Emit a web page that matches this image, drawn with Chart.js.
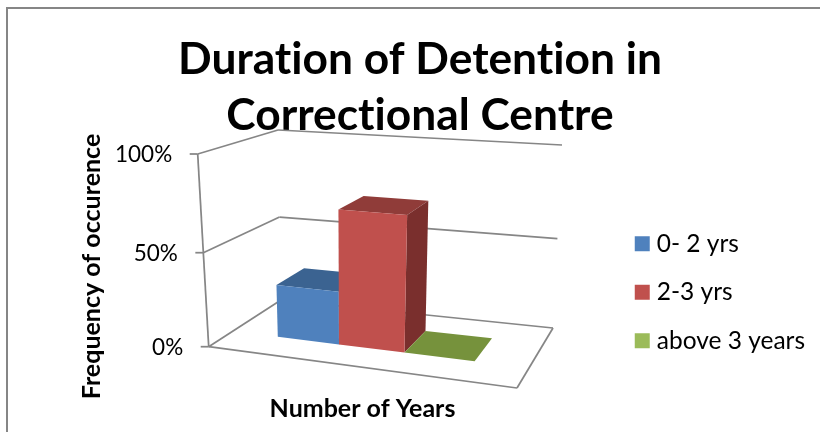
<!DOCTYPE html>
<html>
<head>
<meta charset="utf-8">
<script src="https://cdn.jsdelivr.net/npm/chart.js@4"></script>
<style>
  html, body { margin: 0; background: #fff; }
  #wrap { position: relative; width: 820px; height: 432px; overflow: hidden; }
  #frame { position: absolute; left: 6px; top: 7px; width: 830px; height: 440px; border: 2px solid #868686; }
  canvas { position: absolute; left: 0; top: 0; }
</style>
</head>
<body>
<div id="wrap">
  <div id="frame"></div>
  <canvas id="durationChart" width="820" height="432"></canvas>
</div>
<script>
const titleLines = ['Duration of Detention in', 'Correctional Centre'];
const categories = ['Number of Years'];
const seriesNames = ['0- 2 yrs', '2-3 yrs', 'above 3 years'];
const zeroToTwo = [28.5];
const twoToThree = [71.5];
const aboveThree = [0];
const yTickStep = 50;
const yMax = 100;

const frontColors = ['#4F81BD', '#C0504D', '#9BBB59'];
const topColors = ['#3B6391', '#903C39', '#76923C'];
const sideColors = ['#2F4F75', '#7A2F2D', '#5F7530'];
const gridColor = '#868686';
const fontName = 'Lato, "Open Sans", sans-serif';

// corners of the 3d box on the picture, [u, w]: 00 front left, 10 front right, 11 back right, 01 back left
const floorBox = [[208.7, 346.7], [517, 388], [553, 328], [281, 300]];
const topBox = [[197.7, 154], [532, 177], [562, 145], [278, 130]];
const barDepth = [0.3, 0.7];
const barShift = 0.006;

function quadPoint(q, u, w) {
  const dx1 = q[1][0] - q[2][0], dx2 = q[3][0] - q[2][0], sx = q[0][0] - q[1][0] + q[2][0] - q[3][0];
  const dy1 = q[1][1] - q[2][1], dy2 = q[3][1] - q[2][1], sy = q[0][1] - q[1][1] + q[2][1] - q[3][1];
  const den = dx1 * dy2 - dx2 * dy1;
  const g = (sx * dy2 - dx2 * sy) / den;
  const h = (dx1 * sy - sx * dy1) / den;
  const d = g * u + h * w + 1;
  return [
    (q[0][0] + (q[1][0] - q[0][0] + g * q[1][0]) * u + (q[3][0] - q[0][0] + h * q[3][0]) * w) / d,
    (q[0][1] + (q[1][1] - q[0][1] + g * q[1][1]) * u + (q[3][1] - q[0][1] + h * q[3][1]) * w) / d
  ];
}

function project(u, w, v) {
  const a = quadPoint(floorBox, u, w);
  const b = quadPoint(topBox, u, w);
  const t = v / (v + (1 - v) * 1.05);
  return [a[0] + (b[0] - a[0]) * t, a[1] + (b[1] - a[1]) * t];
}

function poly(ctx, pts, color) {
  ctx.beginPath();
  pts.forEach((p, i) => i ? ctx.lineTo(p[0], p[1]) : ctx.moveTo(p[0], p[1]));
  ctx.closePath();
  ctx.fillStyle = color;
  ctx.fill();
}

function seg(ctx, a, b) {
  ctx.beginPath();
  ctx.moveTo(a[0], a[1]);
  ctx.lineTo(b[0], b[1]);
  ctx.stroke();
}

const box3d = {
  id: 'box3d',
  afterLayout(chart) {
    chart.legend.left = 616;
    chart.legend.bottom = chart.chartArea.bottom - 2;
    // the axis title sits under the front edge of the floor, not the whole plot
    chart.scales.x.right = floorBox[1][0] - 8;
  },
  beforeDraw(chart) {
    chart.ctx.textRendering = 'optimizeSpeed';
  },
  // bars and walls go through project(), the flat bars are not drawn
  beforeDatasetsDraw(chart) {
    const ctx = chart.ctx;
    const area = chart.chartArea;
    const yScale = chart.scales.y;
    const toU = x => (x - area.left) / (area.right - area.left) + barShift;
    const toV = y => (area.bottom - y) / (area.bottom - area.top);

    ctx.save();
    ctx.strokeStyle = gridColor;
    ctx.lineWidth = 1.75;
    ctx.textAlign = 'right';
    ctx.textBaseline = 'middle';
    ctx.font = '22.5px ' + fontName;

    yScale.ticks.forEach(tick => {
      const v = toV(yScale.getPixelForValue(tick.value));
      const front = project(0, 0, v);
      seg(ctx, [front[0] - 8, front[1]], front);
      seg(ctx, front, project(0, 1, v));
      if (v > 0) seg(ctx, project(0, 1, v), project(1, 1, v));
      ctx.fillStyle = '#000';
      ctx.fillText(tick.label, front[0] - 25.5, front[1] + 1);
    });
    seg(ctx, project(0, 0, 0), project(0, 0, 1));
    seg(ctx, project(0, 0, 0), project(1, 0, 0));
    seg(ctx, project(1, 0, 0), project(1, 1, 0));
    seg(ctx, project(1, 1, 0), project(0, 1, 0));

    chart.data.datasets.forEach((ds, i) => {
      chart.getDatasetMeta(i).data.forEach(bar => {
        const u0 = toU(bar.x - bar.width / 2);
        const u1 = toU(bar.x + bar.width / 2);
        const v0 = toV(bar.base);
        const v1 = toV(bar.y);
        const w0 = barDepth[0], w1 = barDepth[1];
        poly(ctx, [project(u0, w0, v1), project(u1, w0, v1), project(u1, w1, v1), project(u0, w1, v1)], topColors[i]);
        if (v1 > v0) {
          poly(ctx, [project(u1, w0, v0), project(u1, w1, v0), project(u1, w1, v1), project(u1, w0, v1)], sideColors[i]);
          poly(ctx, [project(u0, w0, v0), project(u1, w0, v0), project(u1, w0, v1), project(u0, w0, v1)], frontColors[i]);
        }
      });
    });
    ctx.restore();
    return false;
  }
};

const hiddenAxis = {
  ticks: { display: false },
  grid: { display: false },
  border: { display: false }
};

new Chart(document.getElementById('durationChart').getContext('2d'), {
  type: 'bar',
  data: {
    labels: categories,
    datasets: [
      { label: seriesNames[0], data: zeroToTwo, backgroundColor: frontColors[0] },
      { label: seriesNames[1], data: twoToThree, backgroundColor: frontColors[1] },
      { label: seriesNames[2], data: aboveThree, backgroundColor: frontColors[2] }
    ]
  },
  options: {
    responsive: false,
    animation: false,
    categoryPercentage: 0.665,
    barPercentage: 1,
    layout: { padding: { left: 20 } },
    plugins: {
      tooltip: { enabled: false },
      title: {
        display: true,
        text: titleLines,
        color: '#000',
        font: { family: fontName, size: 44.3, weight: 'bold', lineHeight: 1.264 },
        padding: { top: 32, bottom: 10 }
      },
      legend: {
        position: 'right',
        align: 'end',
        labels: {
          color: '#000',
          font: { family: fontName, size: 24.5 },
          usePointStyle: true,
          pointStyle: 'rect',
          boxWidth: 4.5,
          boxHeight: 15,
          padding: 24
        }
      }
    },
    scales: {
      x: {
        ...hiddenAxis,
        title: {
          display: true,
          text: categories[0],
          color: '#000',
          font: { family: fontName, size: 25, weight: 'bold', lineHeight: 1.2 },
          padding: { top: 7, bottom: 8 }
        }
      },
      y: {
        ...hiddenAxis,
        min: 0,
        max: yMax,
        ticks: { display: false, stepSize: yTickStep, callback: v => v + '%' },
        title: {
          display: true,
          text: 'Frequency of occurence',
          color: '#000',
          font: { family: fontName, size: 25, weight: 'bold', lineHeight: 1.2 },
          padding: { top: 57, bottom: 101 }
        }
      }
    }
  },
  plugins: [box3d]
});
</script>
</body>
</html>
